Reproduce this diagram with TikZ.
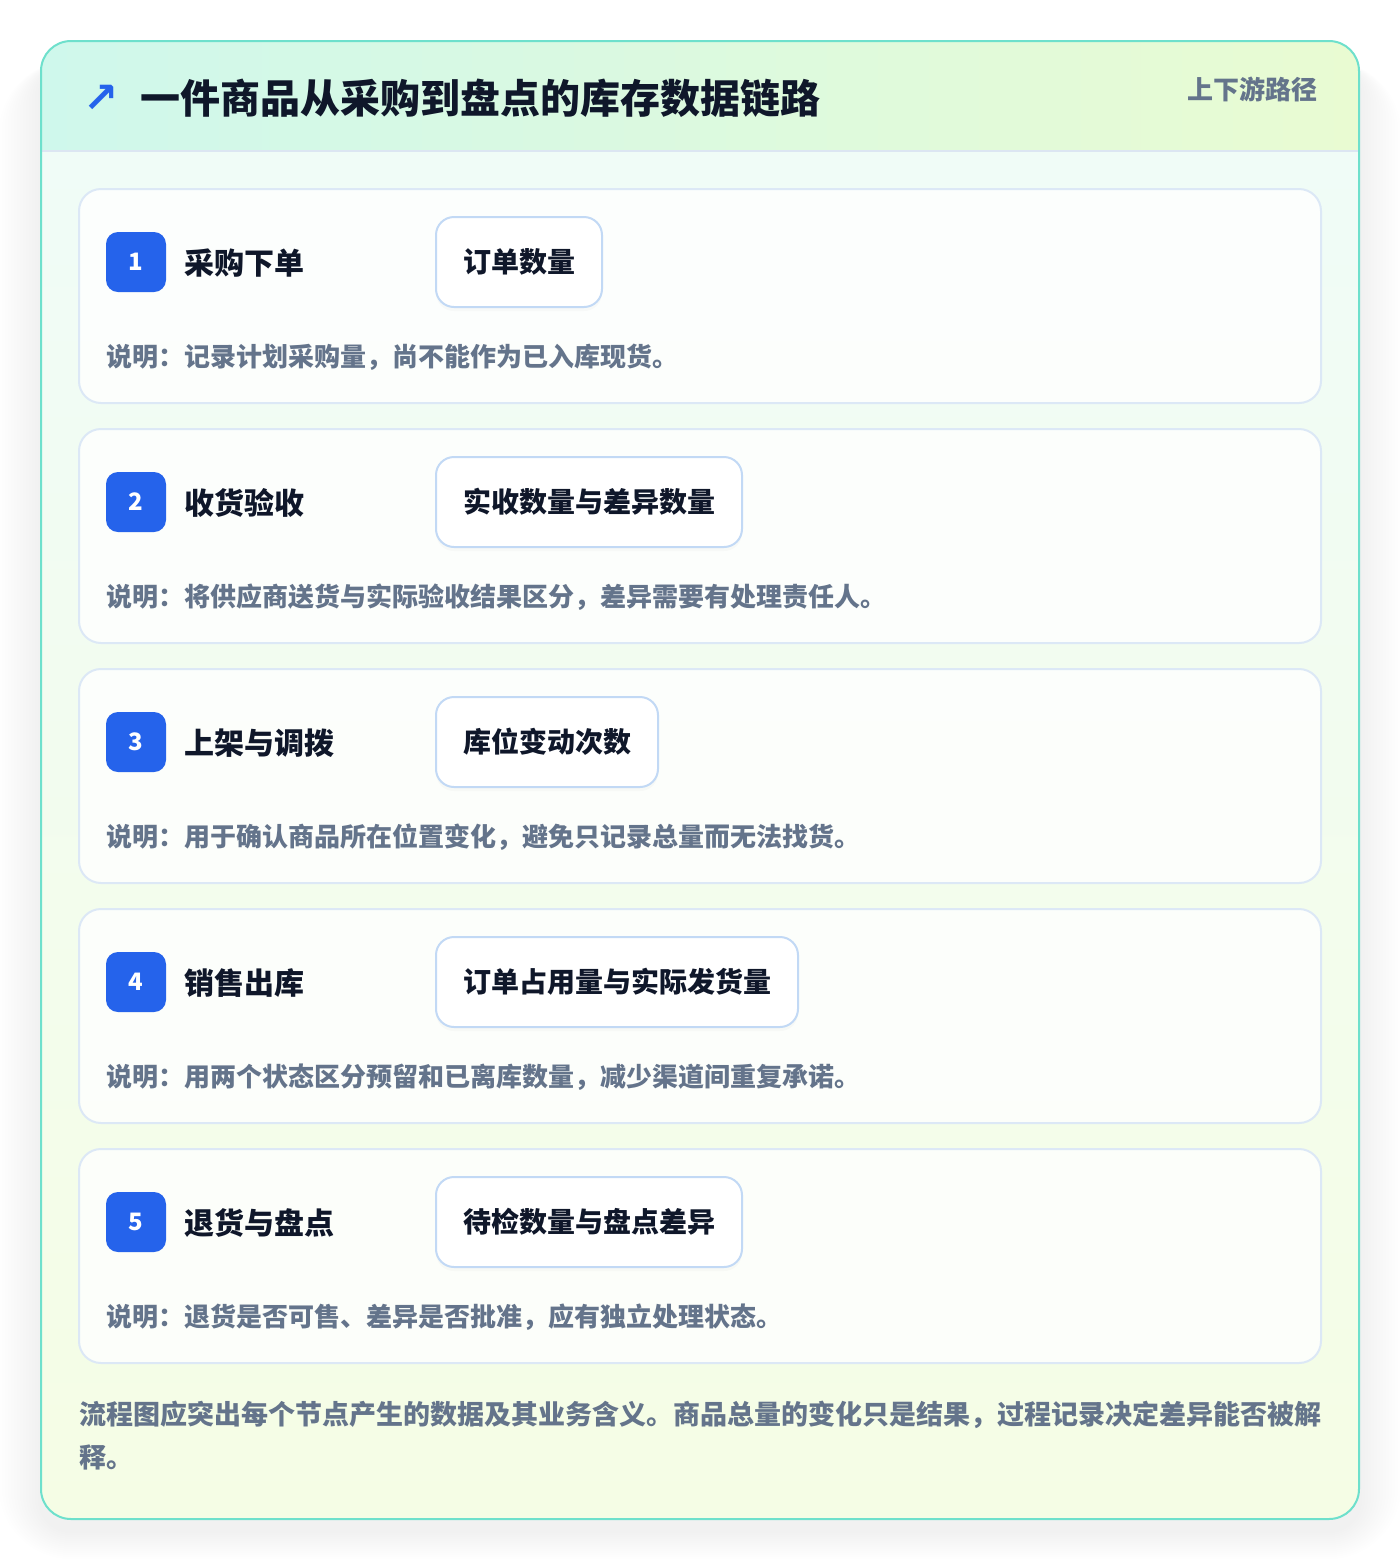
\documentclass[tikz,border=0pt]{standalone}
\usepackage{fontspec}
\setmainfont{Noto Sans CJK SC}
\newfontfamily\symfont{DejaVu Sans}
\usetikzlibrary{positioning,shadows}

\definecolor{ink}{HTML}{0F172A}
\definecolor{muted}{HTML}{64748B}
\definecolor{accent}{HTML}{2563EB}
\definecolor{frame}{HTML}{6EE0CC}
\definecolor{cardline}{HTML}{DCE8F6}
\definecolor{pillline}{HTML}{C2D9F5}
\definecolor{headl}{HTML}{CFF8EC}
\definecolor{headr}{HTML}{E9FBD2}
\definecolor{bodyt}{HTML}{F0FCF7}
\definecolor{bodyb}{HTML}{F5FDE5}
\definecolor{rule}{HTML}{DCE6F2}

\begin{document}
\begin{tikzpicture}[x=0.5pt, y=-0.5pt,
    card/.style={draw=cardline, line width=1pt, fill=white, fill opacity=0.8, rounded corners=11pt},
    badge/.style={fill=accent, text=white, rounded corners=6pt, minimum size=30pt, inner sep=0pt,
                  font=\fontsize{12}{14}\selectfont\bfseries},
    stage/.style={anchor=west, inner sep=0pt, text=ink, font=\fontsize{15}{18}\selectfont\bfseries},
    datum/.style={draw=pillline, line width=1pt, fill=white, rounded corners=9pt, anchor=west,
                  minimum height=45pt, inner xsep=13.5pt, inner ysep=0pt, text=ink,
                  drop shadow={opacity=0.04, shadow xshift=0pt, shadow yshift=-2pt},
                  font=\fontsize{14}{17}\selectfont\bfseries},
    note/.style={anchor=west, inner sep=0pt, text=muted, font=\fontsize{13}{15}\selectfont\bfseries}]

    \useasboundingbox (0,0) rectangle (1400,1560);
    \fill[white] (0,0) rectangle (1400,1560);

    % soft shadow under the panel
    \foreach \k [evaluate=\k as \r using 15+1.5*\k] in {1,...,14}
             {
               \fill[black, opacity=0.005, rounded corners=\r pt] (41-3*\k,61) rectangle (1359+3*\k,1519+12+2*\k);
             }

    % panel
    \begin{scope}
      \clip[rounded corners=15pt] (41,41) rectangle (1359,1519);
      \shade[top color=bodyt, bottom color=bodyb] (41,151) rectangle (1359,1519);
      \shade[left color=headl, right color=headr] (41,41) rectangle (1359,151);
      \draw[rule, line width=1pt] (41,151) -- (1359,151);
    \end{scope}
    \draw[frame, line width=1pt, rounded corners=15pt] (41,41) rectangle (1359,1519);

    \node[inner sep=0pt, text=accent, font=\symfont\bfseries\fontsize{21}{24}\selectfont] (icon) at (101,99) {↗};
    \node[anchor=west, inner sep=0pt, text=ink, font=\fontsize{20}{24}\selectfont\bfseries] (title) at (140,98)
         {一件商品从采购到盘点的库存数据链路};
    \node[anchor=east, inner sep=0pt, text=muted, font=\fontsize{13}{16}\selectfont\bfseries] (tag) at (1318,89)
         {上下游路径};

    % five stages
    \foreach \i/\name/\data/\desc [evaluate=\i as \t using 189+240*(\i-1)] in
             {1/采购下单/订单数量/说明：记录计划采购量，尚不能作为已入库现货。,
              2/收货验收/实收数量与差异数量/说明：将供应商送货与实际验收结果区分，差异需要有处理责任人。,
              3/上架与调拨/库位变动次数/说明：用于确认商品所在位置变化，避免只记录总量而无法找货。,
              4/销售出库/订单占用量与实际发货量/说明：用两个状态区分预留和已离库数量，减少渠道间重复承诺。,
              5/退货与盘点/待检数量与盘点差异/说明：退货是否可售、差异是否批准，应有独立处理状态。}
             {
               \draw[card] (79,\t) rectangle ++(1242,214);
               \node[badge] (num\i) at (136,\t+73) {\i};
               \node[stage] (stage\i) at (184,\t+74) {\name};
               \node[datum] (data\i) at (435,\t+73) {\data};
               \node[note] (note\i) at (106,\t+168) {\desc};
             }

    \node[anchor=west, inner sep=0pt, text=muted, font=\fontsize{13.5}{16}\selectfont\bfseries] (foot1) at (79,1415)
         {流程图应突出每个节点产生的数据及其业务含义。商品总量的变化只是结果，过程记录决定差异能否被解};
    \node[anchor=west, inner sep=0pt, text=muted, font=\fontsize{13.5}{16}\selectfont\bfseries] (foot2) at (79,1457)
         {释。};

  \end{tikzpicture}
\end{document}
